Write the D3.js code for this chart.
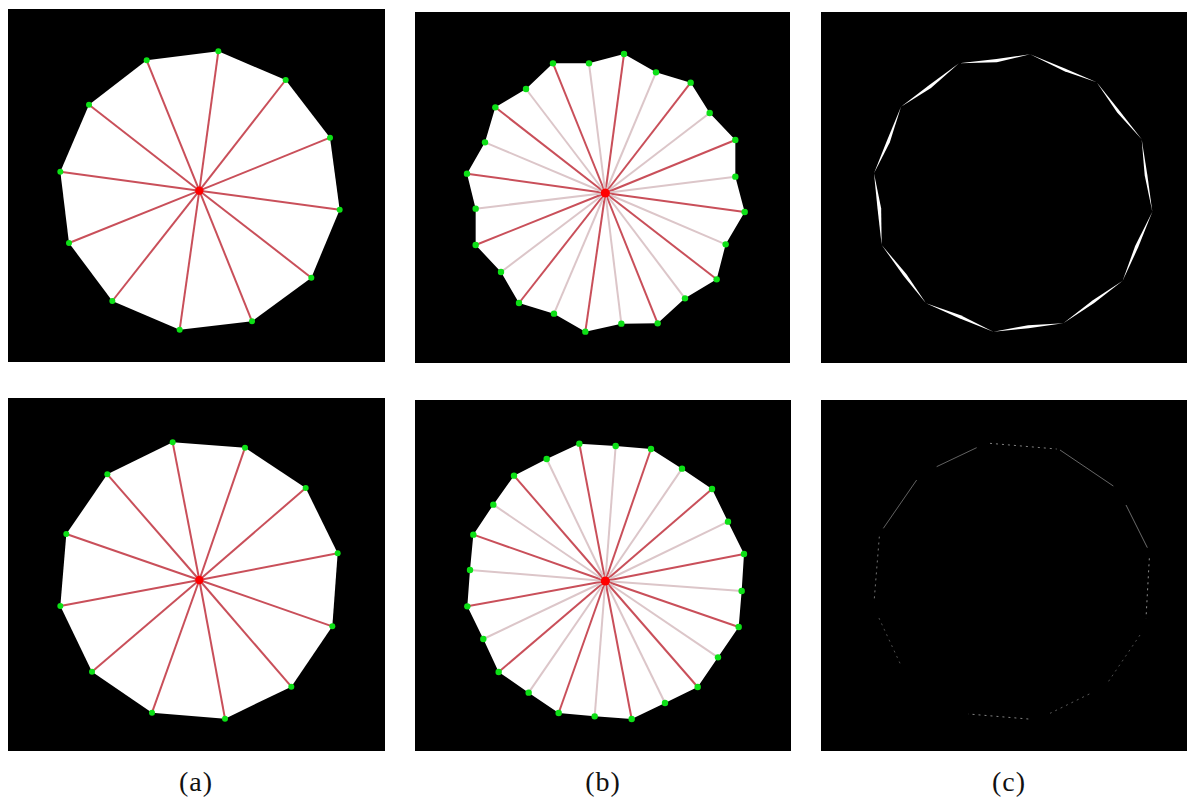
<!DOCTYPE html>
<html lang="en">
<head>
    <meta charset="UTF-8">
    <title>Polygon approximation panels</title>
    <script src="https://d3js.org/d3.v7.min.js"></script>
    <style>
        html, body { margin: 0; padding: 0; background: #fff; }
        svg { display: block; }
        .label { font-family: "Liberation Serif", serif; font-size: 28px; fill: #111; text-anchor: middle; letter-spacing: 1px; }
    </style>
</head>
<body>
    <div id="chart"></div>

    <script>
        // vertices, clockwise from the top, in crop units
        const aTopX = [655, 857, 990, 1019, 934, 756, 539, 337, 207, 181, 267, 440];
        const aTopY = [154, 240, 413, 629, 833, 964, 989, 903, 729, 515, 314, 181];
        const aTopCentre = [598, 572];

        const aBottomX = [518, 735, 917, 1013, 997, 874, 675, 456, 276, 181, 199, 322];
        const aBottomY = [157, 173, 294, 490, 709, 890, 986, 968, 845, 648, 432, 253];
        const aBottomCentre = [598, 570];

        const bTopX = [627, 723, 827, 884, 961, 961, 989, 932, 905, 810, 728, 619, 511, 417, 312, 258, 182, 182, 156, 210, 241, 333, 414, 522];
        const bTopY = [132, 187, 218, 309, 390, 500, 606, 703, 808, 865, 940, 941, 965, 911, 879, 786, 705, 596, 491, 397, 292, 237, 160, 160];
        const bTopCentre = [571, 549];

        const bBottomX = [493, 602, 708, 801, 891, 939, 987, 980, 971, 909, 848, 750, 650, 539, 431, 341, 251, 205, 157, 165, 175, 235, 297, 395];
        const bBottomY = [131, 138, 147, 206, 267, 365, 462, 573, 681, 772, 861, 909, 957, 949, 939, 878, 816, 717, 619, 510, 404, 314, 227, 177];
        const bBottomCentre = [571, 543];

        // panel (c) top: ends of each sliver, then its fattest point and width
        const cTopX = [630, 830, 965, 997, 908, 730, 520, 318, 185, 162, 243, 417];
        const cTopY = [133, 217, 388, 605, 812, 940, 965, 880, 705, 490, 290, 160];
        const cMidX = [735, 895, 978, 950, 820, 625, 420, 255, 178, 205, 330, 530];
        const cMidY = [180, 305, 495, 710, 875, 950, 920, 795, 595, 395, 230, 152];
        const cWidth = [8, 9, 8, 10, 9, 9, 10, 10, 11, 10, 10, 10];

        // panel (c) bottom: faint broken edges
        const cBottomX1 = [510, 720, 918, 988, 960, 808, 625, 240, 163, 190, 350];
        const cBottomY1 = [130, 150, 315, 475, 705, 882, 957, 790, 595, 385, 200];
        const cBottomX2 = [710, 880, 982, 978, 865, 690, 445, 175, 178, 290, 470];
        const cBottomY2 = [147, 258, 443, 655, 845, 940, 942, 650, 410, 240, 143];
        const cBottomDotted = [true, false, false, true, true, true, true, true, true, false, false];
        const cBottomShade = [0.5, 0.4, 0.42, 0.55, 0.3, 0.35, 0.5, 0.3, 0.45, 0.38, 0.38];

        const captions = ["(a)", "(b)", "(c)"];

        const width = 1187;
        const height = 798;

        const svg = d3.select("#chart")
            .append("svg")
            .attr("width", width)
            .attr("height", height);

        svg.append("rect").attr("width", width).attr("height", height).attr("fill", "#fff");

        // soften everything a little, the original is a scaled up raster
        const defs = svg.append("defs");
        defs.append("filter").attr("id", "soft")
            .attr("x", "-5%").attr("y", "-5%").attr("width", "110%").attr("height", "110%")
            .append("feGaussianBlur").attr("stdDeviation", 0.7);

        // scale for a panel: crop units are 3x pixels measured from the crop corner
        function scalesFor(cropX, cropY) {
            return {
                x: d3.scaleLinear().domain([0, 1125]).range([cropX, cropX + 375]),
                y: d3.scaleLinear().domain([0, 1125]).range([cropY, cropY + 375])
            };
        }

        function background(x0, y0, x1, y1) {
            svg.append("rect")
                .attr("x", x0).attr("y", y0)
                .attr("width", x1 - x0).attr("height", y1 - y0)
                .attr("fill", "#000");
        }

        function drawFan(xs, ys, centre, s, opts) {
            const pts = xs.map((v, i) => [s.x(v), s.y(ys[i])]);
            const cx = s.x(centre[0]);
            const cy = s.y(centre[1]);
            const g = svg.append("g").attr("filter", "url(#soft)");

            g.append("path")
                .attr("d", d3.line().curve(d3.curveLinearClosed)(pts))
                .attr("fill", "#fff");

            g.selectAll("line")
                .data(pts)
                .enter().append("line")
                .attr("x1", cx).attr("y1", cy)
                .attr("x2", d => d[0]).attr("y2", d => d[1])
                .attr("stroke", (d, i) => opts.fainter && i % 2 ? "#dcc6c9" : "#c9505a")
                .attr("stroke-width", 2);

            g.selectAll("circle.vertex")
                .data(pts)
                .enter().append("circle")
                .attr("class", "vertex")
                .attr("cx", d => d[0]).attr("cy", d => d[1])
                .attr("r", opts.dot)
                .attr("fill", "#0ce016");

            g.append("circle")
                .attr("cx", cx).attr("cy", cy)
                .attr("r", opts.hub)
                .attr("fill", "#ff0000");
        }

        background(8, 9, 385, 362);
        background(8, 398, 385, 751);
        background(415, 12, 790, 363);
        background(415, 400, 791, 751);
        background(821, 12, 1187, 363);
        background(821, 400, 1187, 751);

        drawFan(aTopX, aTopY, aTopCentre, scalesFor(0, 0), { dot: 3, hub: 4.2 });
        drawFan(aBottomX, aBottomY, aBottomCentre, scalesFor(0, 390), { dot: 3, hub: 4.2 });
        drawFan(bTopX, bTopY, bTopCentre, scalesFor(415, 10), { dot: 3.2, hub: 4.6, fainter: true });
        drawFan(bBottomX, bBottomY, bBottomCentre, scalesFor(415, 400), { dot: 3.2, hub: 4.6, fainter: true });

        // panel (c) top slivers
        const cTopScale = scalesFor(820, 10);
        const sliverLine = d3.line().curve(d3.curveLinearClosed);
        const sliverGroup = svg.append("g").attr("filter", "url(#soft)");
        cTopX.forEach((x, i) => {
            const j = (i + 1) % cTopX.length;
            const dx = cTopX[j] - x;
            const dy = cTopY[j] - cTopY[i];
            const len = Math.hypot(dx, dy);
            const nx = -dy / len * cWidth[i] / 2;
            const ny = dx / len * cWidth[i] / 2;
            const quad = [
                [x, cTopY[i]],
                [cMidX[i] + nx, cMidY[i] + ny],
                [cTopX[j], cTopY[j]],
                [cMidX[i] - nx, cMidY[i] - ny]
            ].map(p => [cTopScale.x(p[0]), cTopScale.y(p[1])]);
            sliverGroup.append("path")
                .attr("d", sliverLine(quad))
                .attr("fill", "#fff");
        });

        // panel (c) bottom broken edges
        const cBottomScale = scalesFor(820, 400);
        svg.append("g")
            .selectAll("line")
            .data(cBottomX1)
            .enter().append("line")
            .attr("x1", d => cBottomScale.x(d))
            .attr("y1", (d, i) => cBottomScale.y(cBottomY1[i]))
            .attr("x2", (d, i) => cBottomScale.x(cBottomX2[i]))
            .attr("y2", (d, i) => cBottomScale.y(cBottomY2[i]))
            .attr("stroke", "#fff")
            .attr("stroke-opacity", (d, i) => cBottomShade[i])
            .attr("stroke-width", 1)
            .attr("stroke-dasharray", (d, i) => cBottomDotted[i] ? "2 4" : null);

        // captions
        svg.selectAll("text.label")
            .data(captions)
            .enter().append("text")
            .attr("class", "label")
            .attr("x", (d, i) => [196, 603, 1009][i])
            .attr("y", 791)
            .text(d => d);
    </script>
</body>
</html>
